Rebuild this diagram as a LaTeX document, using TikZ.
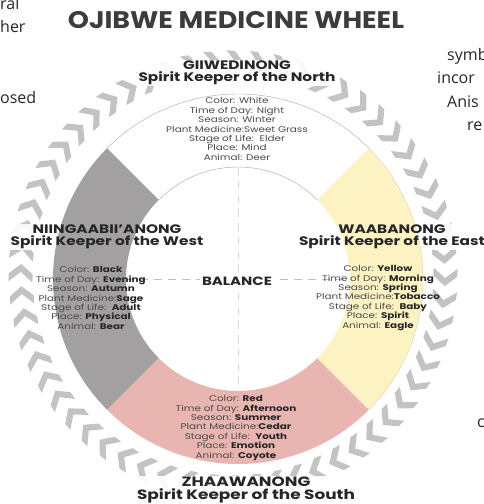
\documentclass[tikz,border=0pt]{standalone}
\usepackage{fontspec}
\setmainfont{Poppins}
\newfontfamily\titlefont{Poppins}[FakeStretch=1.12]
\newfontfamily\wheelfont{Poppins}[FakeStretch=1.25]
\newfontfamily\pagefont{Open Sans}
\usetikzlibrary{calc}
\tikzset{>=latex}
\definecolor{westgray}{HTML}{A2A0A1}
\definecolor{eastyel}{HTML}{FCF2C2}
\definecolor{southpink}{HTML}{E8B5B0}
\definecolor{chevgray}{HTML}{C3C3C5}
\definecolor{ink}{HTML}{262626}
\definecolor{softink}{HTML}{4A4A4A}
\pgfdeclarelayer{chev}
\pgfdeclarelayer{halo}
\pgfdeclarelayer{wheel}
\pgfsetlayers{chev,halo,wheel,main}

\begin{document}
\begin{tikzpicture}[x=1pt,y=1pt,
  keeper/.style={font=\wheelfont\fontsize{12.3}{12}\selectfont\bfseries,align=center,text=ink,inner sep=1pt},
  facts/.style={font=\wheelfont\fontsize{8.3}{9.4}\selectfont,align=center,text=softink,inner sep=1pt},
  pagetext/.style={font=\pagefont\fontsize{16}{16}\selectfont,text=ink,anchor=base west,inner sep=0pt}]

  \useasboundingbox (0,0) rectangle (484,-504);

  \coordinate (c) at (238,-279);   % wheel centre
  \coordinate (cc) at (233,-275);  % chevron ring centre

  % arrows round the wheel
  \begin{pgfonlayer}{chev}
    \foreach \a in {3,9,...,357}
      \fill[chevgray,shift={(cc)},rotate=\a]
        (224,10) -- (212,0) -- (200,10) -- (200,18) -- (212,8) -- (224,18) -- cycle;
  \end{pgfonlayer}

  % the four quarters
  \begin{pgfonlayer}{wheel}
    \foreach \a/\col in {-45/eastyel,135/westgray,225/southpink}
      \fill[\col] ($(c)+(\a:112)$) -- ($(c)+(\a:185)$) arc[start angle=\a,end angle=\a+90,radius=185]
        -- ($(c)+(\a+90:112)$) arc[start angle=\a+90,end angle=\a,radius=112] -- cycle;
    \draw[black!35,line width=.4pt] ($(c)+(45:185)$) arc[start angle=45,end angle=135,radius=185];
    \draw[black!35,line width=.4pt] ($(c)+(45:112)$) arc[start angle=45,end angle=135,radius=112];
    \draw[eastyel!70!black!60,line width=.3pt] ($(c)+(-45:185)$) arc[start angle=-45,end angle=45,radius=185];
    \coordinate (iw) at ($(c)+(180:112)$);
    \coordinate (ie) at ($(c)+(0:112)$);
    \coordinate (in) at ($(c)+(90:112)$);
    \coordinate (is) at ($(c)+(270:112)$);
    \draw[black!25,dash pattern=on 8pt off 6pt,line width=.5pt] (iw) -- (ie);
    \draw[black!15,dash pattern=on 8pt off 6pt,line width=.5pt] (in) -- (is);
  \end{pgfonlayer}

  \node[text=ink!90,font=\titlefont\fontsize{24}{24}\selectfont\bfseries] (title) at (236,-20) {OJIBWE MEDICINE WHEEL};

  \node[keeper] (hN) at (237,-73) {GIIWEDINONG\\Spirit Keeper of the North};
  \node[keeper] (hW) at (107,-237) {NIINGAABII’ANONG\\Spirit Keeper of the West};
  \node[keeper] (hE) at (392,-237) {WAABANONG\\Spirit Keeper of the East};
  \node[keeper,font=\wheelfont\fontsize{13.5}{13}\selectfont\bfseries] (hS) at (246,-490) {ZHAAWANONG\\Spirit Keeper of the South};

  \node[facts] (dN) at (237,-129) {Color: White\\Time of Day: Night\\Season: Winter\\Plant Medicine:Sweet Grass\\Stage of Life:\ \ Elder\\Place: Mind\\Animal: Deer};
  \node[facts] (dW) at (91,-298) {Color: \textbf{\color{ink}Black}\\Time of Day: \textbf{\color{ink}Evening}\\Season: \textbf{\color{ink}Autumn}\\Plant Medicine:\textbf{\color{ink}Sage}\\Stage of Life:\ \ \textbf{\color{ink}Adult}\\Place: \textbf{\color{ink}Physical}\\Animal: \textbf{\color{ink}Bear}};
  \node[facts] (dE) at (378,-298) {Color: \textbf{\color{ink}Yellow}\\Time of Day: \textbf{\color{ink}Morning}\\Season: \textbf{\color{ink}Spring}\\Plant Medicine:\textbf{\color{ink}Tobacco}\\Stage of Life:\ \ \textbf{\color{ink}Baby}\\Place: \textbf{\color{ink}Spirit}\\Animal: \textbf{\color{ink}Eagle}};
  \node[facts] (dS) at (236,-428) {Color: \textbf{\color{ink}Red}\\Time of Day: \textbf{\color{ink}Afternoon}\\Season: \textbf{\color{ink}Summer}\\Plant Medicine:\textbf{\color{ink}Cedar}\\Stage of Life:\ \ \textbf{\color{ink}Youth}\\Place: \textbf{\color{ink}Emotion}\\Animal: \textbf{\color{ink}Coyote}};

  \node[fill=white,text=ink,font=\wheelfont\fontsize{12}{12}\selectfont\bfseries,inner sep=2pt] (bal) at (237,-281) {BALANCE};

  % white glow behind the keeper names
  \begin{pgfonlayer}{halo}
    \foreach \h in {hN,hW,hE,hS}
      \fill[white,opacity=.9] (\h.south west) rectangle (\h.north east);
  \end{pgfonlayer}

  % text of the page round the figure
  \node[pagetext] (l1) at (0,-9) {ral};
  \node[pagetext] (l2) at (0,-32.5) {her};
  \node[pagetext] (l3) at (0,-103) {osed};
  \node[pagetext] (r1) at (447,-60) {symb};
  \node[pagetext] (r2) at (437,-83.5) {incor};
  \node[pagetext] (r3) at (447,-107) {Anis};
  \node[pagetext] (r4) at (467,-130.5) {re};
  \node[pagetext] (r5) at (477,-427) {c};
\end{tikzpicture}
\end{document}
